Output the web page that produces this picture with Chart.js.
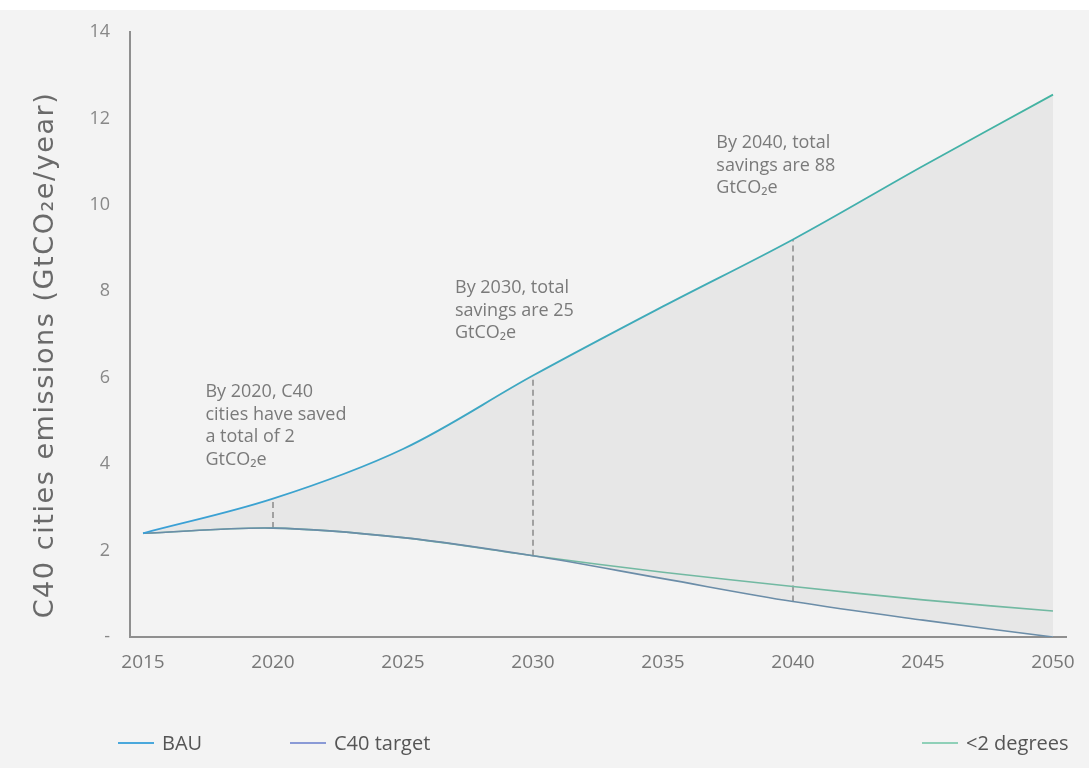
<!DOCTYPE html>
<html>
<head>
<meta charset="utf-8">
<script src="https://cdn.jsdelivr.net/npm/chart.js@4"></script>
<style>
  body { margin: 0; background: #fff; font-family: "Open Sans", sans-serif; }
  #wrap { position: relative; width: 1089px; height: 768px; }
  #bg { position: absolute; left: 0; top: 10px; width: 1089px; height: 758px; background: #f3f3f3; }
  #chart { position: absolute; left: 0; top: 0; }
  .leg { position: absolute; top: 729px; font-size: 20px; color: #555; display: flex; align-items: center; }
  .leg span { display: inline-block; width: 36px; height: 2px; margin-right: 8px; }
</style>
</head>
<body>
<div id="wrap">
  <div id="bg"></div>
  <canvas id="chart" width="1089" height="768"></canvas>
  <div class="leg" style="left:118px"><span style="background:#4aa8dc"></span>BAU</div>
  <div class="leg" style="left:290px"><span style="background:#8a9ad6"></span>C40 target</div>
  <div class="leg" style="left:922px"><span style="background:#8fd0b8"></span>&lt;2 degrees</div>
</div>
<script>
const years = [2015, 2020, 2025, 2030, 2035, 2040, 2045, 2050];
const bau = [2.4, 3.2, 4.35, 6.05, 7.65, 9.2, 10.9, 12.55];
const c40Target = [2.4, 2.52, 2.3, 1.88, 1.35, 0.82, 0.39, 0.0];
const twoDegrees = [2.4, 2.52, 2.3, 1.88, 1.5, 1.17, 0.86, 0.6];

const yTicks = [0, 2, 4, 6, 8, 10, 12, 14];
const xTicks = [2015, 2020, 2025, 2030, 2035, 2040, 2045, 2050];

// savings markers: year, lower value, upper value
const markerYears = [2020, 2030, 2040];
const markerLow = [2.52, 1.88, 0.82];
const markerHigh = [3.2, 6.05, 9.2];

const notes = [
  { x: 2017.4, y: 5.67, lines: ["By 2020, C40", "cities have saved", "a total of 2", "GtCO\u2082e"] },
  { x: 2027.0, y: 8.08, lines: ["By 2030, total", "savings are 25", "GtCO\u2082e"] },
  { x: 2037.05, y: 11.43, lines: ["By 2040, total", "savings are 88", "GtCO\u2082e"] }
];

const yTitle = 'C40 cities emissions (GtCO\u2082e/year)';

const pts = arr => years.map((x, i) => ({ x, y: arr[i] }));

const markerSets = markerYears.map((yr, i) => ({
  data: [{ x: yr, y: markerLow[i] }, { x: yr, y: markerHigh[i] }],
  borderColor: '#8a8a8a',
  borderWidth: 1.5,
  borderDash: [6, 4],
  pointRadius: 0,
  fill: false
}));

function bauColor(context) {
  const area = context.chart.chartArea;
  if (!area) return '#3eaac8';
  const g = context.chart.ctx.createLinearGradient(area.left, 0, area.right, 0);
  g.addColorStop(0, '#3a9fd8');
  g.addColorStop(1, '#44b4a0');
  return g;
}

const notePlugin = {
  id: 'notes',
  afterDatasetsDraw(chart) {
    const { ctx, scales } = chart;
    ctx.save();
    ctx.font = '18px "Open Sans", sans-serif';
    ctx.fillStyle = '#7a7a7a';
    ctx.textBaseline = 'middle';
    notes.forEach(n => {
      const px = scales.x.getPixelForValue(n.x);
      const py = scales.y.getPixelForValue(n.y);
      n.lines.forEach((l, i) => ctx.fillText(l, px, py + i * 22.6));
    });
    // y axis title, stretched to the length used in the original
    ctx.font = '27px "DejaVu Sans", sans-serif';
    ctx.fillStyle = '#6a6a6a';
    const w = ctx.measureText(yTitle).width;
    ctx.letterSpacing = Math.max(0, (525 - w) / (yTitle.length - 1)).toFixed(2) + 'px';
    ctx.translate(46, 355);
    ctx.rotate(-Math.PI / 2);
    ctx.textAlign = 'center';
    ctx.fillText(yTitle, 0, 0);
    ctx.restore();
  }
};

new Chart(document.getElementById('chart'), {
  type: 'line',
  data: {
    datasets: [
      {
        label: 'BAU',
        data: pts(bau),
        borderColor: bauColor,
        borderWidth: 1.8,
        backgroundColor: '#e7e7e7',
        fill: '+1',
        pointRadius: 0,
        tension: 0.35
      },
      {
        label: 'C40 target',
        data: pts(c40Target),
        borderColor: '#6b8da8',
        borderWidth: 1.6,
        fill: false,
        pointRadius: 0,
        tension: 0.35
      },
      {
        label: '<2 degrees',
        data: pts(twoDegrees),
        borderColor: '#72b9a2',
        borderWidth: 1.6,
        backgroundColor: '#e5e9e8',
        fill: 1,
        pointRadius: 0,
        tension: 0.35
      },
      ...markerSets
    ]
  },
  options: {
    responsive: false,
    animation: false,
    layout: { padding: { top: 32, right: 19, left: 0, bottom: 0 } },
    plugins: {
      legend: { display: false },
      tooltip: { enabled: false },
      filler: { drawTime: 'beforeDatasetsDraw' }
    },
    scales: {
      x: {
        type: 'linear',
        min: 2014.5,
        max: 2050.5,
        afterFit: s => { s.height = 131; },
        afterBuildTicks: s => { s.ticks = xTicks.map(v => ({ value: v })); },
        grid: { display: false, drawTicks: false },
        border: { color: '#8f8f8f', width: 2 },
        ticks: {
          padding: 14,
          color: '#777',
          font: { size: 19, family: '"Open Sans", sans-serif' },
          callback: v => String(v)
        }
      },
      y: {
        min: 0,
        max: 14,
        afterFit: s => { s.width = 130; },
        afterBuildTicks: s => { s.ticks = yTicks.map(v => ({ value: v })); },
        grid: { display: false, drawTicks: false },
        border: { color: '#8f8f8f', width: 2 },
        ticks: {
          padding: 20,
          color: '#888',
          font: { size: 18, family: '"Open Sans", sans-serif' },
          callback: v => v === 0 ? '-' : String(v)
        }
      }
    }
  },
  plugins: [notePlugin]
});
</script>
</body>
</html>
